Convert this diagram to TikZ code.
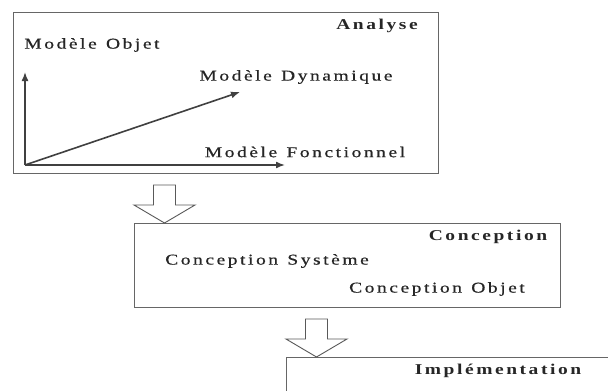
\documentclass[tikz,border=0pt]{standalone}
\usepackage{fontspec}
\setmainfont{Liberation Serif}[LetterSpace=17,FakeStretch=1.3,WordSpace=1.25,
  UprightFeatures={FakeBold=0.6}]
\usetikzlibrary{arrows.meta}
\tikzset{
  >={Latex[length=9pt,width=7pt]},
  blockarrow/.pic={
    \draw[bigarrow] (19.5,-38) -- (41.5,-38) -- (41.5,-18) -- (61,-18)
      -- (30.5,0) -- (0,-18) -- (19.5,-18) -- cycle;
  },
}
\tikzstyle{phase}=[draw=black!60,line width=1pt,inner sep=0pt,anchor=north west]
\tikzstyle{axes}=[line width=1.6pt,->,black!75]
\tikzstyle{bigarrow}=[draw=black!65,line width=0.9pt,fill=white,line join=miter]
\tikzstyle{every node}=[font=\fontsize{15}{17}\selectfont,text=black!85,inner sep=0pt]
\tikzstyle{title}=[font=\fontsize{15}{17}\selectfont\bfseries]

\begin{document}
\begin{tikzpicture}[x=1pt,y=-1pt]
  \clip (0,0) rectangle (608,391);
  \fill[white] (0,0) rectangle (608,391);
  % les trois phases
  \node[phase,minimum width=425pt,minimum height=161pt] (analyse) at (13,12) {};
  \node[phase,minimum width=426pt,minimum height=84pt] (conception) at (134,223) {};
  \node[phase,minimum width=340pt,minimum height=60pt] (implem) at (286,357) {};
  \node[title] (tanalyse) at (377,26) {Analyse};
  \node[title] (tconception) at (488,237) {Conception};
  \node[title] (timplem) at (498,371) {Implémentation};
  % les trois modeles
  \coordinate (origine) at (25,165);
  \coordinate (haut) at (25,72);
  \coordinate (droite) at (285,165);
  \coordinate (oblique) at (240,92);
  \draw[axes] (origine)--(haut);
  \draw[axes] (origine)--(droite);
  \draw[axes] (origine)--(oblique);
  \node (objet) at (92,45) {Modèle Objet};
  \node (dynamique) at (296,77) {Modèle Dynamique};
  \node (fonctionnel) at (305,152) {Modèle Fonctionnel};
  \node (systeme) at (267,261) {Conception Système};
  \node (cobjet) at (437,289) {Conception Objet};
  % passage d'une phase a l'autre
  \pic at (conception.north west) {blockarrow};
  \pic at (implem.north west) {blockarrow};
\end{tikzpicture}
\end{document}
